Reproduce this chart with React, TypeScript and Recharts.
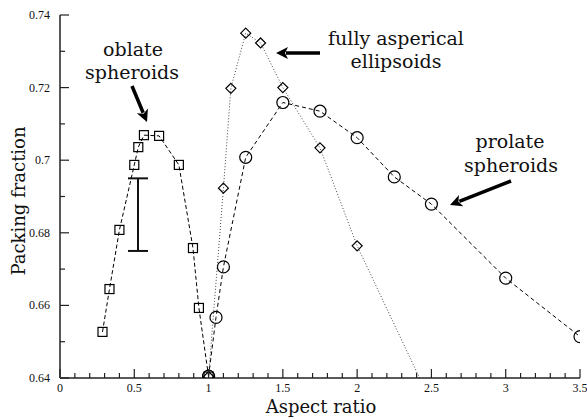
import React from 'react';
import {
  ComposedChart,
  XAxis,
  YAxis,
  Line,
  Scatter,
  ErrorBar,
} from 'recharts';

// oblate spheroids (squares)
const oblateX = [0.286, 0.333, 0.4, 0.5, 0.527, 0.565, 0.667, 0.8, 0.895, 0.935, 1.0];
const oblateY = [0.6527, 0.6645, 0.6808, 0.6987, 0.7036, 0.7069, 0.7067, 0.6987, 0.6758, 0.6593, 0.6404];

// prolate spheroids (circles)
const prolateX = [1.0, 1.05, 1.1, 1.25, 1.5, 1.75, 2.0, 2.25, 2.5, 3.0, 3.5];
const prolateY = [0.6405, 0.6567, 0.6706, 0.7008, 0.7159, 0.7135, 0.7062, 0.6954, 0.6879, 0.6675, 0.6514];

// fully aspherical ellipsoids (diamonds)
const asphX = [1.0, 1.1, 1.15, 1.25, 1.35, 1.5, 1.75, 2.0, 2.5];
const asphY = [0.6404, 0.6923, 0.7198, 0.735, 0.7323, 0.72, 0.7034, 0.6764, 0.6331];

// error bar
const errX = [0.525];
const errY = [0.685];
const errSize = [0.01];

const xMajor = [0, 0.5, 1, 1.5, 2, 2.5, 3, 3.5];
const yMajor = [0.64, 0.66, 0.68, 0.7, 0.72, 0.74];

// minor ticks every 0.1 on x, every 0.01 on y
const xTicks = Array.from({ length: 36 }, (_, i) => i / 10);
const yTicks = Array.from({ length: 11 }, (_, i) => Math.round((0.64 + i * 0.01) * 100) / 100);

const zip = (xs: number[], ys: number[]) => xs.map((x, i) => ({ x, y: ys[i] }));
const oblate = zip(oblateX, oblateY);
const prolate = zip(prolateX, prolateY);
const asph = zip(asphX, asphY);
const errData = errX.map((x, i) => ({ x, y: errY[i], err: errSize[i] }));

const isMajor = (v: number, majors: number[]) => majors.some((m) => Math.abs(m - v) < 1e-6);
const fmt = (v: number) => String(Number(v.toFixed(2)));

const AX = '#222';
const tickStyle = { fontFamily: "'Liberation Serif', serif", fontSize: 12 };
const annStyle = { fontFamily: "'DejaVu Serif', serif" };

const BottomTick = (p: any) => {
  const major = isMajor(p.payload.value, xMajor);
  return (
    <g>
      <line x1={p.x} x2={p.x} y1={p.y} y2={p.y - (major ? 9 : 5)} stroke={AX} strokeWidth={1.2} />
      {major && (
        <text x={p.x} y={p.y + 14} textAnchor="middle" style={tickStyle} fill="#111">
          {fmt(p.payload.value)}
        </text>
      )}
    </g>
  );
};

const TopTick = (p: any) => {
  const major = isMajor(p.payload.value, xMajor);
  return <line x1={p.x} x2={p.x} y1={p.y} y2={p.y + (major ? 9 : 5)} stroke={AX} strokeWidth={1.2} />;
};

const LeftTick = (p: any) => {
  const major = isMajor(p.payload.value, yMajor);
  return (
    <g>
      <line x1={p.x} x2={p.x + (major ? 9 : 5)} y1={p.y} y2={p.y} stroke={AX} strokeWidth={1.2} />
      {major && (
        <text x={p.x - 10} y={p.y + 4} textAnchor="end" style={tickStyle} fill="#111">
          {fmt(p.payload.value)}
        </text>
      )}
    </g>
  );
};

const RightTick = (p: any) => {
  const major = isMajor(p.payload.value, yMajor);
  return <line x1={p.x} x2={p.x - (major ? 9 : 5)} y1={p.y} y2={p.y} stroke={AX} strokeWidth={1.2} />;
};

const SquareDot = (p: any) =>
  p.cx == null ? <g /> : (
    <rect key={p.index} x={p.cx - 4.5} y={p.cy - 4.5} width={9} height={9} fill="none" stroke="#000" strokeWidth={1.2} />
  );

const CircleDot = (p: any) =>
  p.cx == null ? <g /> : <circle key={p.index} cx={p.cx} cy={p.cy} r={6} fill="none" stroke="#000" strokeWidth={1.2} />;

const DiamondDot = (p: any) =>
  p.cx == null ? <g /> : (
    <polygon
      key={p.index}
      points={`${p.cx},${p.cy - 5} ${p.cx + 5},${p.cy} ${p.cx},${p.cy + 5} ${p.cx - 5},${p.cy}`}
      fill="none"
      stroke="#000"
      strokeWidth={1.2}
    />
  );

const Arrow = ({ x1, y1, x2, y2 }: { x1: number; y1: number; x2: number; y2: number }) => {
  const dx = x2 - x1;
  const dy = y2 - y1;
  const len = Math.hypot(dx, dy);
  const ux = dx / len;
  const uy = dy / len;
  const hl = 12;
  const hw = 6;
  const bx = x2 - ux * hl;
  const by = y2 - uy * hl;
  return (
    <g>
      <line x1={x1} y1={y1} x2={bx + ux * 2} y2={by + uy * 2} stroke="#000" strokeWidth={3.5} />
      <polygon
        points={`${x2},${y2} ${bx - uy * hw},${by + ux * hw} ${bx + ux * 3},${by + uy * 3} ${bx + uy * hw},${by - ux * hw}`}
        fill="#000"
      />
    </g>
  );
};

const App = () => {
  return (
    <div style={{ position: 'absolute', left: 0, top: 0, width: 587, height: 419, background: '#fff' }}>
      <ComposedChart width={587} height={419} margin={{ top: 15, right: 7, bottom: 0, left: 0 }}>
        <XAxis
          type="number"
          dataKey="x"
          domain={[0, 3.5]}
          ticks={xTicks}
          interval={0}
          height={41}
          tickSize={0}
          tickMargin={0}
          tick={<BottomTick />}
          axisLine={{ stroke: AX, strokeWidth: 1.5 }}
          allowDataOverflow
        />
        <XAxis
          xAxisId="top"
          orientation="top"
          type="number"
          domain={[0, 3.5]}
          ticks={xTicks}
          interval={0}
          height={0}
          tickSize={0}
          tickMargin={0}
          tick={<TopTick />}
          axisLine={{ stroke: AX, strokeWidth: 1.5 }}
          allowDataOverflow
        />
        <YAxis
          type="number"
          domain={[0.64, 0.74]}
          ticks={yTicks}
          interval={0}
          width={60}
          tickSize={0}
          tickMargin={0}
          tick={<LeftTick />}
          axisLine={{ stroke: AX, strokeWidth: 1.5 }}
          allowDataOverflow
        />
        <YAxis
          yAxisId="right"
          orientation="right"
          type="number"
          domain={[0.64, 0.74]}
          ticks={yTicks}
          interval={0}
          width={0}
          tickSize={0}
          tickMargin={0}
          tick={<RightTick />}
          axisLine={{ stroke: AX, strokeWidth: 1.5 }}
          allowDataOverflow
        />
        <Line
          data={asph}
          dataKey="y"
          stroke="#444"
          strokeWidth={1}
          strokeDasharray="1 2"
          dot={<DiamondDot />}
          activeDot={false}
          isAnimationActive={false}
        />
        <Line
          data={oblate}
          dataKey="y"
          stroke="#000"
          strokeWidth={1}
          strokeDasharray="4 2.5"
          dot={<SquareDot />}
          activeDot={false}
          isAnimationActive={false}
        />
        <Line
          data={prolate}
          dataKey="y"
          stroke="#000"
          strokeWidth={1}
          strokeDasharray="4 3"
          dot={<CircleDot />}
          activeDot={false}
          isAnimationActive={false}
        />
        <Scatter data={errData} dataKey="y" shape={() => <g />} isAnimationActive={false}>
          <ErrorBar dataKey="err" direction="y" width={10} strokeWidth={2} stroke="#111" />
        </Scatter>
      </ComposedChart>
      <svg width={587} height={419} style={{ position: 'absolute', left: 0, top: 0, pointerEvents: 'none' }}>
        <text x={18} y={201} transform="rotate(-90 18 201)" textAnchor="middle" dominantBaseline="central" style={{ ...annStyle, fontSize: 18 }} fill="#111">
          Packing fraction
        </text>
        <text x={321} y={413} textAnchor="middle" style={{ ...annStyle, fontSize: 18 }} fill="#111">
          Aspect ratio
        </text>
        <g style={{ ...annStyle, fontSize: 19 }} fill="#111" textAnchor="middle">
          <text x={133} y={56}>oblate</text>
          <text x={132} y={79}>spheroids</text>
          <text x={396} y={45}>fully asperical</text>
          <text x={396} y={68}>ellipsoids</text>
          <text x={510} y={148}>prolate</text>
          <text x={511} y={172}>spheroids</text>
        </g>
        <Arrow x1={132} y1={86} x2={147} y2={122} />
        <Arrow x1={320} y1={53} x2={276} y2={53} />
        <Arrow x1={511} y1={181} x2={450} y2={205} />
      </svg>
    </div>
  );
};

export default App;
